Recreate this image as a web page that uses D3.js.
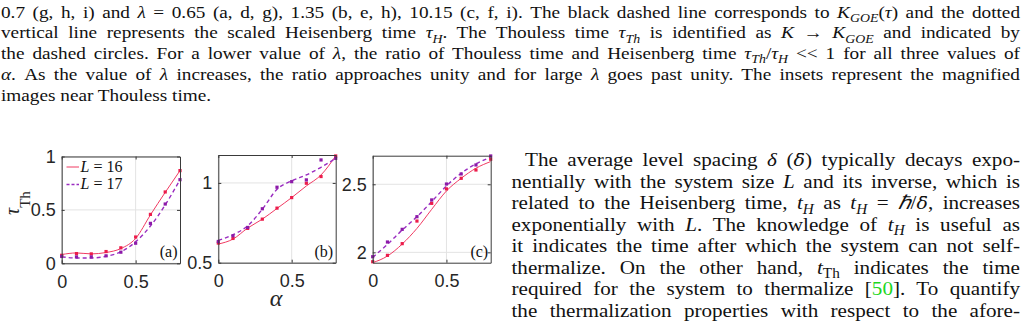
<!DOCTYPE html>
<html>
<head>
<meta charset="utf-8">
<script src="https://cdn.jsdelivr.net/npm/d3@7"></script>
<style>
html, body { margin: 0; padding: 0; background: #fff; overflow: hidden; }
svg { display: block; }
text { white-space: pre; }
</style>
</head>
<body>
<svg id="page" width="1030" height="336"></svg>
<script>
// ---- values ----
const alpha = [0, 0.1, 0.2, 0.3, 0.4, 0.5, 0.6, 0.7, 0.8];

// panel (a), lambda = 0.65
const tauA16 = [0.075, 0.091, 0.088, 0.110, 0.145, 0.246, 0.458, 0.668, 0.868];
const tauA17 = [0.064, 0.060, 0.060, 0.070, 0.104, 0.188, 0.374, 0.555, 0.783];
const fitA16 = [0.082, 0.097, 0.088, 0.101, 0.138, 0.233, 0.453, 0.664, 0.868];
const fitA17 = [0.060, 0.050, 0.050, 0.066, 0.107, 0.201, 0.349, 0.547, 0.783];

// panel (b), lambda = 1.35
const tauB16 = [0.623, 0.652, 0.715, 0.773, 0.842, 0.908, 0.998, 1.040, 1.169];
const tauB17 = [0.633, 0.669, 0.721, 0.838, 0.973, 1.008, 1.019, 1.144, 1.154];
const fitB16 = [0.617, 0.648, 0.717, 0.773, 0.840, 0.908, 0.981, 1.050, 1.169];
const fitB17 = [0.640, 0.675, 0.731, 0.835, 0.960, 1.013, 1.050, 1.098, 1.154];

// panel (c), lambda = 10.15
const tauC16 = [1.931, 1.978, 2.064, 2.230, 2.360, 2.466, 2.544, 2.605, 2.684];
const tauC17 = [1.968, 2.076, 2.169, 2.262, 2.385, 2.502, 2.576, 2.642, 2.708];
const fitC16 = [1.924, 1.973, 2.061, 2.176, 2.316, 2.451, 2.544, 2.618, 2.667];
const fitC17 = [1.963, 2.059, 2.164, 2.262, 2.373, 2.488, 2.581, 2.650, 2.699];

const xTicks = [0, 0.5];
const yTicksA = [0, 0.5, 1];
const yTicksB = [0.5, 1];
const yTicksC = [2, 2.5];
const panelLabels = ["(a)", "(b)", "(c)"];
const legendSizes = ["16", "17"];

// ---- text of the page ----
const captionLines = [
  [["0.7 (g, h, i) and "], ["λ", "i"], [" = 0.65 (a, d, g), 1.35 (b, e, h), 10.15 (c, f, i). The black dashed line corresponds to "], ["K", "i"], ["GOE", "s"], ["("], ["τ", "i"], [") and the dotted"]],
  [["vertical line represents the scaled Heisenberg time "], ["τ", "i"], ["H", "s"], [". The Thouless time "], ["τ", "i"], ["Th", "s"], [" is identified as "], ["K", "i"], [" → "], ["K", "i"], ["GOE", "s"], [" and indicated by"]],
  [["the dashed circles. For a lower value of "], ["λ", "i"], [", the ratio of Thouless time and Heisenberg time "], ["τ", "i"], ["Th", "s"], ["/"], ["τ", "i"], ["H", "s"], [" << 1 for all three values of"]],
  [["α", "i"], [". As the value of "], ["λ", "i"], [" increases, the ratio approaches unity and for large "], ["λ", "i"], [" goes past unity. The insets represent the magnified"]],
  [["images near Thouless time."]]
];
const bodyLines = [
  [["The average level spacing "], ["δ", "i"], [" ("], ["δ\u0304", "b"], [") typically decays expo-"]],
  [["nentially with the system size "], ["L", "i"], [" and its inverse, which is"]],
  [["related to the Heisenberg time, "], ["t", "i"], ["H", "s"], [" as "], ["t", "i"], ["H", "s"], [" = "], ["ℏ", "i"], ["/"], ["δ\u0304", "b"], [", increases"]],
  [["exponentially with "], ["L", "i"], [". The knowledge of "], ["t", "i"], ["H", "s"], [" is useful as"]],
  [["it indicates the time after which the system can not self-"]],
  [["thermalize. On the other hand, "], ["t", "i"], ["Th", "sr"], [" indicates the time"]],
  [["required for the system to thermalize ["], ["50", "g"], ["]. To quantify"]],
  [["the thermalization properties with respect to the afore-"]]
];

const serif = "'Liberation Serif', 'Times New Roman', serif";
const sans = "'Liberation Sans', Arial, sans-serif";
const red = "#ec1c4b", redLine = "#f03a62";
const purple = "#8c1aa8", purpleLine = "#9a2cc0";

const svg = d3.select("#page");

// ====================
// justified text line (glyphs widened a bit to look like Computer Modern)
// ====================
const stretch = 1.1;
function textLine(segs, x, y, target, size) {
  const t = svg.append("text")
    .attr("transform", `translate(${x},${y}) scale(${stretch},1)`)
    .attr("font-family", serif)
    .attr("font-size", size)
    .attr("fill", "#111");
  let shift = 0;
  segs.forEach(([s, st]) => {
    const sp = t.append("tspan").text(s);
    const sub = st === "s" || st === "sr";
    const want = sub ? size * 0.25 : 0;
    if (want !== shift) { sp.attr("dy", want - shift); shift = want; }
    if (st === "i" || st === "s" || st === "b") sp.attr("font-style", "italic");
    if (st === "b") sp.attr("font-family", "'DejaVu Serif', serif").attr("font-size", size * 0.9);
    if (sub) sp.attr("font-size", size * 0.72);
    if (st === "g") sp.attr("fill", "#1ed61e");
  });
  const all = segs.map(d => d[0]).join("");
  const nSpaces = (all.match(/ /g) || []).length;
  const w0 = t.node().getComputedTextLength();
  if (target && nSpaces > 0) t.style("word-spacing", ((target / stretch - w0) / nSpaces) + "px");
}

const capBase = [17.5, 38.3, 59.1, 79.9, 100.7];
captionLines.forEach((segs, i) => {
  const target = i === captionLines.length - 1 ? null : 1019;
  textLine(segs, 1, capBase[i], target, 17.5);
});

bodyLines.forEach((segs, i) => {
  const x0 = i === 0 ? 525 : 511.5;
  textLine(segs, x0, 166 + i * 21.5, 1020 - x0, 19.2);
});

// ====================
// panels
// ====================
const panels = [
  { label: panelLabels[0], box: [61.7, 156.5, 180, 263.3], yDom: [0, 1], yTicks: yTicksA, s16: tauA16, s17: tauA17, f16: fitA16, f17: fitA17 },
  { label: panelLabels[1], box: [218.3, 155, 335.7, 262.7], yDom: [0.5, 1.175], yTicks: yTicksB, s16: tauB16, s17: tauB17, f16: fitB16, f17: fitB17 },
  { label: panelLabels[2], box: [372.7, 155.7, 490.7, 262.7], yDom: [1.924, 2.71], yTicks: yTicksC, s16: tauC16, s17: tauC17, f16: fitC16, f17: fitC17 }
];

function styleAxis(sel) {
  sel.select(".domain").attr("stroke", "#3a3a3a");
  sel.selectAll(".tick line").attr("stroke", "#3a3a3a");
  sel.selectAll(".tick text").attr("font-family", sans).attr("font-size", 18).attr("fill", "#262626");
}

panels.forEach((p, k) => {
  const [x0, y0, x1, y1] = p.box;
  const x = d3.scaleLinear().domain([0, 0.8]).range([x0, x1]);
  const y = d3.scaleLinear().domain(p.yDom).range([y1, y0]);
  const g = svg.append("g");

  // grid
  g.selectAll(".gx").data(xTicks).join("line")
    .attr("x1", d => x(d)).attr("x2", d => x(d)).attr("y1", y0).attr("y2", y1)
    .attr("stroke", "#e3e3e3");
  g.selectAll(".gy").data(p.yTicks).join("line")
    .attr("x1", x0).attr("x2", x1).attr("y1", d => y(d)).attr("y2", d => y(d))
    .attr("stroke", "#e3e3e3");

  // panel label
  g.append("text")
    .attr("x", x1 - 2.5).attr("y", y1 - 6)
    .attr("text-anchor", "end")
    .attr("font-family", serif).attr("font-size", 16).attr("fill", "#111")
    .text(p.label);

  // curves
  const clipId = "clip" + k;
  g.append("clipPath").attr("id", clipId)
    .append("rect").attr("x", x0).attr("y", y0).attr("width", x1 - x0).attr("height", y1 - y0);
  const line = d3.line()
    .x((d, i) => x(alpha[i]))
    .y(d => y(d))
    .curve(d3.curveMonotoneX);
  const plot = g.append("g").attr("clip-path", `url(#${clipId})`);
  plot.append("path").datum(p.f16).attr("d", line)
    .attr("fill", "none").attr("stroke", redLine).attr("stroke-width", 1);
  plot.append("path").datum(p.f17).attr("d", line)
    .attr("fill", "none").attr("stroke", purpleLine).attr("stroke-width", 1.4)
    .attr("stroke-dasharray", "4,3");

  [[p.s16, red], [p.s17, purple]].forEach(([vals, col]) => {
    g.selectAll(null).data(vals).join("rect")
      .attr("x", (d, i) => x(alpha[i]) - 1.6)
      .attr("y", d => y(d) - 1.6)
      .attr("width", 3.2).attr("height", 3.2)
      .attr("fill", col);
  });

  // axes (box with inward ticks)
  g.append("g").attr("transform", `translate(0,${y1})`)
    .call(d3.axisBottom(x).tickValues(xTicks).tickSize(-3).tickSizeOuter(0).tickPadding(12).tickFormat(d3.format("~g")))
    .call(styleAxis);
  g.append("g").attr("transform", `translate(${x0},0)`)
    .call(d3.axisLeft(y).tickValues(p.yTicks).tickSize(-3).tickSizeOuter(0).tickPadding(6).tickFormat(d3.format("~g")))
    .call(styleAxis);
  g.append("g").attr("transform", `translate(0,${y0})`)
    .call(d3.axisTop(x).tickValues(xTicks).tickSize(-3).tickSizeOuter(0).tickFormat(() => ""))
    .call(styleAxis);
  g.append("g").attr("transform", `translate(${x1},0)`)
    .call(d3.axisRight(y).tickValues(p.yTicks).tickSize(-3).tickSizeOuter(0).tickFormat(() => ""))
    .call(styleAxis);

  // legend in panel (a)
  if (k === 0) {
    const items = [[legendSizes[0], redLine, null, 167], [legendSizes[1], purpleLine, "3,2", 184.5]];
    items.forEach(([n, lc, dash, ly]) => {
      g.append("line").attr("x1", 66.5).attr("x2", 79).attr("y1", ly).attr("y2", ly)
        .attr("stroke", lc).attr("stroke-width", dash ? 1.4 : 1)
        .attr("stroke-dasharray", dash);
      const t = g.append("text").attr("x", 80.5).attr("y", ly + 4.8)
        .attr("font-family", serif).attr("font-size", 16).attr("fill", "#111");
      t.append("tspan").attr("font-style", "italic").text("L");
      t.append("tspan").text(" = " + n);
    });
  }
});

// axis titles
const yt = svg.append("text")
  .attr("transform", "translate(18.5,215) rotate(-90)")
  .attr("font-family", serif).attr("fill", "#262626");
yt.append("tspan").attr("font-size", 20).attr("font-style", "italic").text("τ");
yt.append("tspan").attr("font-size", 15).attr("dy", 11).text("Th");

svg.append("text")
  .attr("x", 276).attr("y", 306)
  .attr("text-anchor", "middle")
  .attr("font-family", serif).attr("font-size", 24).attr("font-style", "italic")
  .attr("fill", "#262626")
  .text("α");
</script>
</body>
</html>
